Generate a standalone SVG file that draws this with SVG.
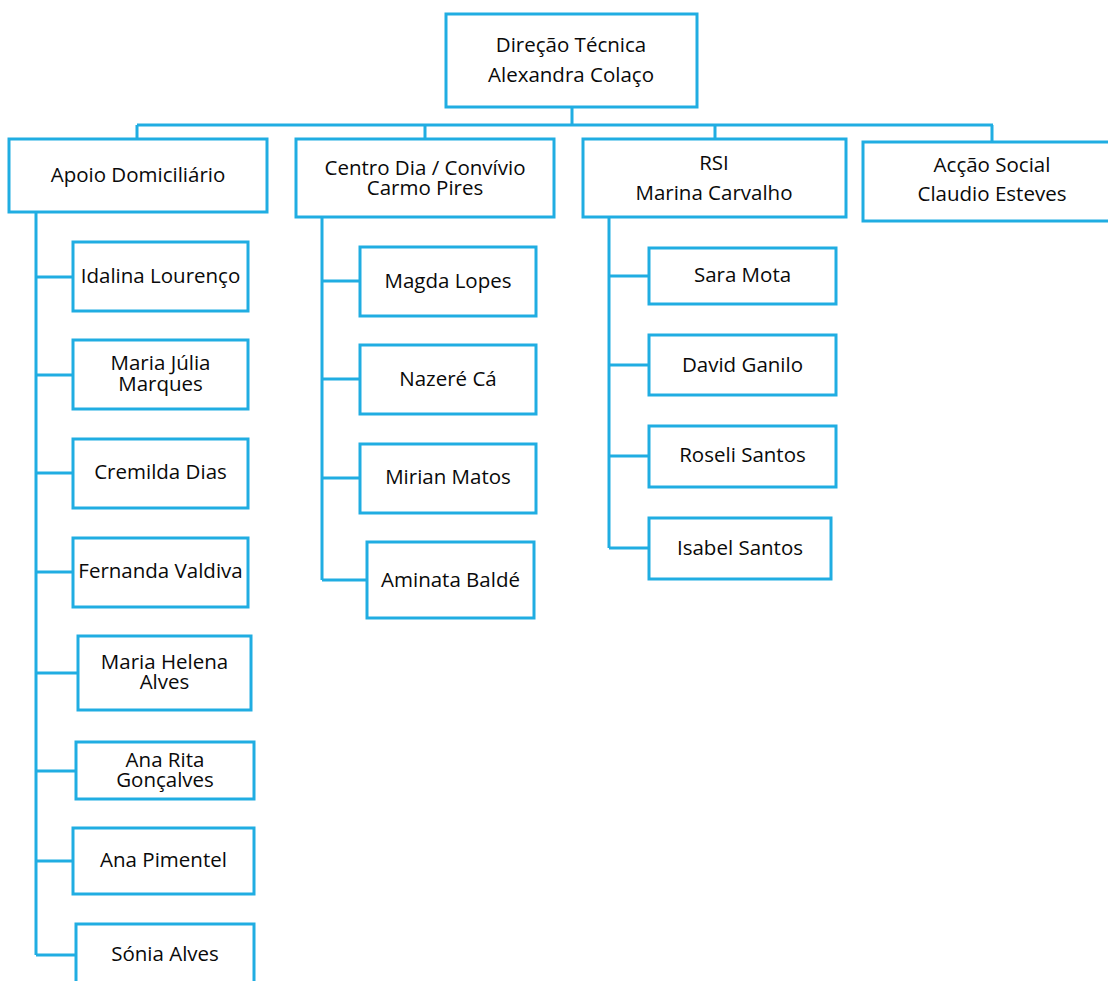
<svg xmlns="http://www.w3.org/2000/svg" width="1108" height="981" viewBox="0 0 1108 981">
<style>
.box{fill:#fff;stroke:#20ade2;stroke-width:3}
.ln{fill:none;stroke:#20ade2;stroke-width:3}
text{font-family:"Open Sans","Liberation Sans",sans-serif;font-size:20.5px;fill:#0a0a0a;text-anchor:middle}
</style>
<rect width="1108" height="981" fill="#fff"/>
<g id="connectors" class="ln">
<path d="M572,107V125M137,125H993M137,125V140M425,125V139M715,125V139M992,125V142"/>
<path d="M36,212V955M36,277H73M36,375H73M36,473H73M36,572H73M36,673H78M36,771H76M36,861H73M36,955H76"/>
<path d="M322,217V580M322,281H360M322,379H360M322,478H360M322,580H367"/>
<path d="M609,217V548M609,276H649M609,365H649M609,456H649M609,548H649"/>
</g>
<g id="root"><rect class="box" x="446" y="14" width="251" height="93"/><text x="571" y="52">Direção Técnica<tspan x="571" dy="30">Alexandra Colaço</tspan></text></g>
<g id="apoio"><rect class="box" x="9" y="139" width="258" height="73"/><text x="138" y="182">Apoio Domiciliário</text></g>
<g id="centro"><rect class="box" x="296" y="139" width="258" height="78"/><text x="425" y="175">Centro Dia / Convívio<tspan x="425" dy="20">Carmo Pires</tspan></text></g>
<g id="rsi"><rect class="box" x="583" y="139" width="263" height="78"/><text x="714" y="170">RSI<tspan x="714" dy="30">Marina Carvalho</tspan></text></g>
<g id="accao"><rect class="box" x="863" y="142" width="250" height="79"/><text x="992" y="172">Acção Social<tspan x="992" dy="29">Claudio Esteves</tspan></text></g>
<g id="idalina"><rect class="box" x="73" y="242" width="175" height="69"/><text x="160.5" y="283">Idalina Lourenço</text></g>
<g id="mariajulia"><rect class="box" x="73" y="340" width="175" height="69"/><text x="160.5" y="370">Maria Júlia<tspan x="160.5" dy="21">Marques</tspan></text></g>
<g id="cremilda"><rect class="box" x="73" y="439" width="175" height="69"/><text x="160.5" y="479">Cremilda Dias</text></g>
<g id="fernanda"><rect class="box" x="73" y="538" width="175" height="69"/><text x="160.5" y="578">Fernanda Valdiva</text></g>
<g id="mariahelena"><rect class="box" x="78" y="636" width="173" height="74"/><text x="164.5" y="669">Maria Helena<tspan x="164.5" dy="20">Alves</tspan></text></g>
<g id="anarita"><rect class="box" x="76" y="742" width="178" height="57"/><text x="165" y="767">Ana Rita<tspan x="165" dy="20">Gonçalves</tspan></text></g>
<g id="anapimentel"><rect class="box" x="73" y="828" width="181" height="66"/><text x="163.5" y="867">Ana Pimentel</text></g>
<g id="sonia"><rect class="box" x="76" y="924" width="178" height="70"/><text x="165" y="961">Sónia Alves</text></g>
<g id="magda"><rect class="box" x="360" y="247" width="176" height="69"/><text x="448" y="288">Magda Lopes</text></g>
<g id="nazere"><rect class="box" x="360" y="345" width="176" height="69"/><text x="448" y="386">Nazeré Cá</text></g>
<g id="mirian"><rect class="box" x="360" y="444" width="176" height="69"/><text x="448" y="484">Mirian Matos</text></g>
<g id="aminata"><rect class="box" x="367" y="542" width="167" height="76"/><text x="450.5" y="587">Aminata Baldé</text></g>
<g id="sara"><rect class="box" x="649" y="248" width="187" height="56"/><text x="742.5" y="282">Sara Mota</text></g>
<g id="david"><rect class="box" x="649" y="335" width="187" height="60"/><text x="742.5" y="372">David Ganilo</text></g>
<g id="roseli"><rect class="box" x="649" y="426" width="187" height="61"/><text x="742.5" y="462">Roseli Santos</text></g>
<g id="isabel"><rect class="box" x="649" y="518" width="182" height="61"/><text x="740" y="555">Isabel Santos</text></g>
</svg>
